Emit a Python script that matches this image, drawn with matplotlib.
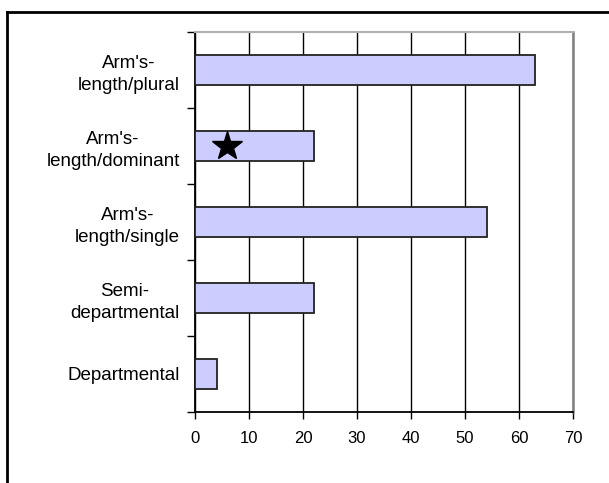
import matplotlib.pyplot as plt
from matplotlib.lines import Line2D
import numpy as np

categories = [
    "Departmental",
    "Semi-\ndepartmental",
    "Arm's-\nlength/single",
    "Arm's-\nlength/dominant",
    "Arm's-\nlength/plural",
]
values = [4, 22, 54, 22, 63]
star_category = 3
star_value = 6
x_ticks = [0, 10, 20, 30, 40, 50, 60, 70]

plt.rcParams["font.family"] = ["Liberation Sans", "DejaVu Sans"]

fig = plt.figure(figsize=(6.09, 4.83), dpi=100)
ax = fig.add_axes([195 / 609, 1 - 412 / 483, 378 / 609, 380 / 483])

pos = np.arange(len(categories))
ax.barh(pos, values, height=0.4, color="#ccccff", edgecolor="#222222",
        linewidth=1.3, zorder=3)
ax.plot([star_value], [star_category], marker="*", markersize=22,
        color="black", linestyle="none", zorder=4)

ax.set_xlim(0, 70)
ax.set_ylim(-0.5, len(categories) - 0.5)
ax.set_xticks(x_ticks)
ax.xaxis.grid(True, color="black", linewidth=1.0, zorder=1)
ax.tick_params(axis="x", direction="out", length=5, width=1, pad=9,
               labelsize=12)

ax.set_yticks(pos)
ax.set_yticklabels(categories, fontsize=13.5, multialignment="center",
                   linespacing=1.35)
ax.set_yticks(np.arange(-0.5, len(categories), 1.0), minor=True)
ax.tick_params(axis="y", which="major", length=0, pad=11)
ax.tick_params(axis="y", which="minor", direction="out", length=6, width=1)

for s in ["left", "bottom"]:
    ax.spines[s].set_color("black")
    ax.spines[s].set_linewidth(1.3)
ax.spines["top"].set_color("#b0b0b0")
ax.spines["top"].set_linewidth(1.5)
ax.spines["right"].set_color("#808080")
ax.spines["right"].set_linewidth(1.8)

# outer frame lines at top and left of the image
fig.add_artist(Line2D([7 / 609, 1], [1 - 12 / 483, 1 - 12 / 483],
                      color="black", linewidth=2, transform=fig.transFigure))
fig.add_artist(Line2D([7 / 609, 7 / 609], [0, 1 - 12 / 483],
                      color="black", linewidth=2, transform=fig.transFigure))

fig.savefig("out.png", dpi=100)
